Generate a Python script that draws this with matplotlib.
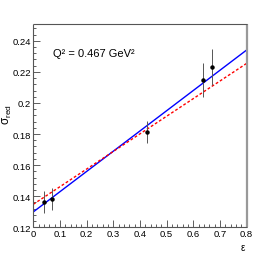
import numpy as np
import matplotlib.pyplot as plt
from matplotlib.ticker import MultipleLocator

plt.rcParams['font.family'] = ['Liberation Sans', 'DejaVu Sans']
plt.rcParams['mathtext.fontset'] = 'custom'
plt.rcParams['mathtext.rm'] = 'Liberation Sans'

# data
eps = [0.040, 0.070, 0.426, 0.636, 0.670]
sigma = [0.1361, 0.1383, 0.1815, 0.2150, 0.2232]
sigma_err = [0.0070, 0.0071, 0.0071, 0.0110, 0.0116]

fit_x = [0.0, 0.8]
lin_fit = [0.1299, 0.2340]   # blue solid
alt_fit = [0.1348, 0.2254]   # red dashed

fig = plt.figure(figsize=(2.66, 2.55), dpi=100)
ax = fig.add_axes([33.3 / 266, 1 - 228.3 / 255, (246.5 - 33.3) / 266, (228.3 - 25) / 255])

ax.plot(fit_x, lin_fit, color='#0000ff', lw=1.0, zorder=2)
ax.plot(fit_x, alt_fit, color='#ff0000', lw=1.0, ls=(0, (2, 1.5)), zorder=2)
ax.errorbar(eps, sigma, yerr=sigma_err, fmt='o', ms=2.2, color='black',
            ecolor='#555555', elinewidth=0.7, capsize=0, zorder=3)

ax.set_xlim(0, 0.8)
ax.set_ylim(0.12, 0.2508)
ax.xaxis.set_major_locator(MultipleLocator(0.1))
ax.xaxis.set_minor_locator(MultipleLocator(0.02))
ax.yaxis.set_major_locator(MultipleLocator(0.02))
ax.yaxis.set_minor_locator(MultipleLocator(0.004))
ax.set_xticklabels([f"{v:g}" for v in ax.get_xticks()])
ax.set_yticklabels([f"{v:g}" for v in ax.get_yticks()])
ax.tick_params(which='both', direction='in', labelsize=6.8, color='#444444', pad=1.5)
ax.tick_params(which='major', length=5, width=0.6)
ax.tick_params(which='minor', length=2.5, width=0.6)
for s in ax.spines.values():
    s.set_color('#555555')
    s.set_linewidth(0.8)
    s.set_capstyle('butt')
ax.spines['right'].set_color('#999999')
ax.spines['right'].set_linewidth(1.6)

ax.text(0.075, 0.232, 'Q² = 0.467 GeV²', fontsize=8, va='center', ha='left')
ax.set_ylabel(r'σ$_{\mathrm{red}}$', fontsize=8.5, labelpad=2)
ax.yaxis.set_label_coords(-0.09, 0.56)
ax.set_xlabel('ε', fontsize=7)
ax.xaxis.set_label_coords(0.985, -0.07)

fig.savefig('out.png', dpi=100)
